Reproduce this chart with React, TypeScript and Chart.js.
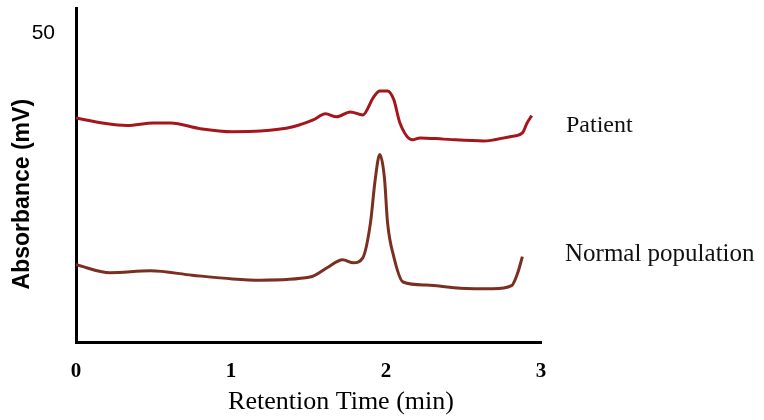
import React, { useEffect, useRef } from "react";
import { Chart, registerables } from "chart.js";

Chart.register(...registerables);

// Retention time (min) and absorbance (mV)
const patientTime = [0, 0.17, 0.33, 0.5, 0.61, 0.8, 1.01, 1.19, 1.4, 1.53, 1.61, 1.68, 1.77, 1.85, 1.92, 1.96, 2.01, 2.05, 2.09, 2.17, 2.22, 2.37, 2.63, 2.8, 2.88, 2.91, 2.94];
const patientAbs = [36.2, 35.4, 35.0, 35.4, 35.4, 34.5, 34.0, 34.1, 34.8, 35.9, 36.9, 36.4, 37.2, 36.7, 39.6, 40.6, 40.6, 39.2, 35.4, 32.7, 33.0, 32.8, 32.5, 33.2, 33.8, 35.4, 36.6];

const normalTime = [0, 0.22, 0.48, 0.75, 1.01, 1.19, 1.51, 1.62, 1.72, 1.79, 1.85, 1.9, 1.93, 1.96, 1.99, 2.01, 2.05, 2.11, 2.26, 2.48, 2.69, 2.81, 2.85, 2.88];
const normalAbs = [12.5, 11.2, 11.5, 10.8, 10.2, 10.0, 10.5, 12.0, 13.3, 12.8, 13.6, 19.3, 26.2, 30.3, 26.5, 19.3, 13.8, 9.7, 9.2, 8.7, 8.6, 9.1, 11.2, 13.8];

const xTicks = [0, 1, 2, 3];
const yTicks = [50];
const seriesNames = ["Patient", "Normal population"];

const labelPlugin = {
  id: "seriesLabels",
  afterDraw(chart: any) {
    const ctx = chart.ctx;
    const right = chart.chartArea.right;
    ctx.save();
    ctx.fillStyle = "#111";
    ctx.textAlign = "left";
    ctx.textBaseline = "alphabetic";
    ctx.font = "24px 'Liberation Serif'";
    ctx.fillText(seriesNames[0], right + 25, 132);
    ctx.font = "25px 'Liberation Serif'";
    ctx.fillText(seriesNames[1], right + 24, 261);
    ctx.restore();
  },
};

export default function App() {
  const ref = useRef<HTMLCanvasElement>(null);
  useEffect(() => {
    if (!ref.current) return;
    const chart = new Chart(ref.current, {
      type: "line",
      data: {
        datasets: [
          {
            label: seriesNames[0],
            data: patientTime.map((t, i) => ({ x: t, y: patientAbs[i] })),
            borderColor: "rgb(165,22,28)",
            borderWidth: 3,
            pointRadius: 0,
            cubicInterpolationMode: "monotone",
            fill: false,
          },
          {
            label: seriesNames[1],
            data: normalTime.map((t, i) => ({ x: t, y: normalAbs[i] })),
            borderColor: "rgb(122,48,32)",
            borderWidth: 3,
            pointRadius: 0,
            cubicInterpolationMode: "monotone",
            fill: false,
          },
        ],
      },
      options: {
        responsive: false,
        animation: false,
        devicePixelRatio: 1,
        layout: { padding: { top: 8, left: 0, right: 223, bottom: 0 } },
        plugins: { legend: { display: false }, tooltip: { enabled: false } },
        scales: {
          x: {
            type: "linear",
            min: 0,
            max: 3,
            grid: { display: false, drawTicks: false },
            border: { display: true, color: "#000", width: 3 },
            afterBuildTicks: (s: any) => {
              s.ticks = xTicks.map((v) => ({ value: v }));
            },
            afterFit: (s: any) => {
              s.height = 78;
              s.paddingLeft = 0;
              s.paddingRight = 0;
            },
            ticks: {
              padding: 17,
              color: "#000",
              font: { family: "'Liberation Serif'", size: 21, weight: "bold" },
              callback: (v: any) => String(v),
            },
            title: {
              display: true,
              text: "\u00A0".repeat(10) + "Retention Time (min)",
              color: "#000",
              font: { family: "'Liberation Serif'", size: 26 },
              padding: { top: 0, bottom: 2 },
            },
          },
          y: {
            type: "linear",
            min: 0,
            max: 54,
            grid: { display: false, drawTicks: false },
            border: { display: true, color: "#000", width: 3 },
            afterBuildTicks: (s: any) => {
              s.ticks = yTicks.map((v) => ({ value: v }));
            },
            afterFit: (s: any) => {
              s.width = 76;
              s.paddingTop = 0;
              s.paddingBottom = 0;
            },
            ticks: {
              padding: 21,
              color: "#000",
              font: { family: "'Liberation Sans'", size: 21 },
              callback: (v: any) => String(v),
            },
            title: {
              display: true,
              text: "Absorbance (mV)" + "\u00A0".repeat(6),
              color: "#000",
              font: { family: "'Liberation Sans'", size: 23, weight: "bold" },
              padding: { top: 9, bottom: 0 },
            },
          },
        },
      },
      plugins: [labelPlugin],
    } as any);
    return () => chart.destroy();
  }, []);
  return (
    <div style={{ position: "absolute", left: 0, top: 0, width: 764, height: 420, background: "#fff" }}>
      <canvas ref={ref} width={764} height={420} />
    </div>
  );
}
